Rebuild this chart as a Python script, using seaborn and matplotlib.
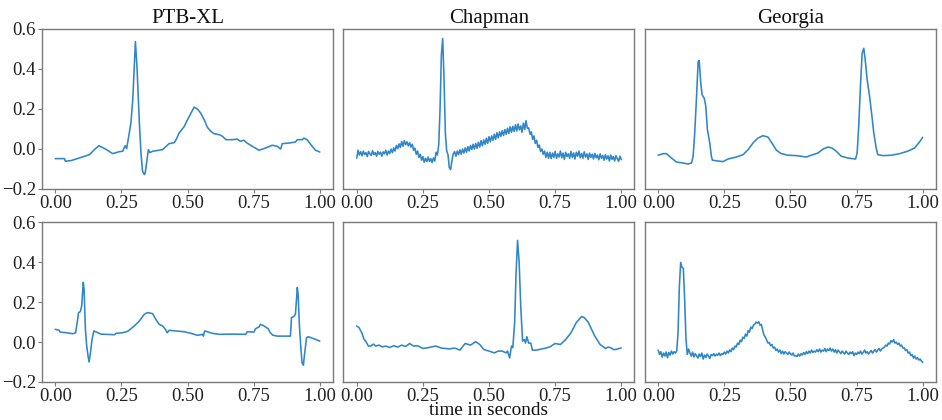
import numpy as np
import pandas as pd
import matplotlib
matplotlib.use("Agg")
import matplotlib.pyplot as plt
import seaborn as sns

titles = ["PTB-XL", "Chapman", "Georgia"]
xticks = [0.0, 0.25, 0.5, 0.75, 1.0]
yticks = [-0.2, 0.0, 0.2, 0.4, 0.6]

# ---- PTB-XL (top): breakpoints (time, value)
ptb_top_t = [0.0, 0.035, 0.038, 0.06, 0.13, 0.148, 0.165, 0.19, 0.217, 0.23, 0.243, 0.255, 0.264, 0.27,
             0.286, 0.293, 0.303, 0.309, 0.318, 0.324, 0.33, 0.337, 0.34, 0.347, 0.352, 0.358, 0.368,
             0.406, 0.43, 0.45, 0.458, 0.468, 0.487, 0.5, 0.513, 0.525, 0.538, 0.55, 0.563, 0.575,
             0.588, 0.6, 0.62, 0.632, 0.645, 0.67, 0.688, 0.7, 0.713, 0.725, 0.745, 0.77, 0.795,
             0.82, 0.839, 0.852, 0.858, 0.883, 0.908, 0.915, 0.934, 0.94, 0.952, 0.971, 0.984, 1.0]
ptb_top_v = [-0.05, -0.05, -0.063, -0.06, -0.03, -0.005, 0.015, -0.002, -0.025, -0.02, -0.015, -0.013, 0.015, 0.0,
             0.128, 0.245, 0.537, 0.41, 0.128, -0.02, -0.113, -0.13, -0.122, -0.055, -0.005, -0.02, -0.013,
             -0.005, 0.025, 0.03, 0.048, 0.078, 0.11, 0.145, 0.178, 0.208, 0.198, 0.178, 0.145, 0.107,
             0.087, 0.075, 0.07, 0.062, 0.045, 0.045, 0.048, 0.037, 0.042, 0.028, 0.012, -0.008, 0.003,
             0.017, 0.012, -0.002, 0.025, 0.028, 0.033, 0.045, 0.045, 0.053, 0.045, 0.012, -0.008, -0.017]

# ---- Chapman (top): uniformly sampled values, 0..1 s
chap_top_v = [
    -0.048, -0.008, -0.032, -0.015, -0.036, -0.012, -0.030, -0.020, -0.040, -0.014,
    -0.026, -0.034, -0.010, -0.030, -0.020, -0.038, -0.014, -0.028, -0.018, -0.038,
    -0.016, -0.026, -0.008, -0.032,
    -0.012, -0.025, -0.002, -0.020, 0.004, -0.012, 0.016, 0.000, 0.024, 0.006,
    0.036, 0.012, 0.040, 0.020, 0.034, 0.014, 0.030,
    0.008, 0.022, -0.008, 0.002, -0.028, -0.012, -0.044, -0.028, -0.058, -0.040,
    -0.068, -0.048, -0.065, -0.042, -0.064, -0.050, -0.070, -0.046,
    -0.062, -0.018, -0.032, 0.020, 0.200, 0.470, 0.552, 0.350, 0.080, -0.010,
    -0.030, -0.095, -0.105, -0.060, -0.025,
    -0.015, -0.038, -0.012, -0.030, -0.006, -0.028, -0.002, -0.022, 0.004, -0.018,
    0.010, -0.012, 0.016, -0.004, 0.022, -0.002, 0.026, 0.002, 0.032, 0.008,
    0.040, 0.014, 0.044, 0.022, 0.052, 0.026, 0.060, 0.034, 0.064, 0.042,
    0.072, 0.046, 0.080, 0.054, 0.084, 0.062, 0.090, 0.066, 0.096, 0.072,
    0.102, 0.076, 0.110, 0.082, 0.112, 0.086, 0.120, 0.088, 0.124, 0.094,
    0.114, 0.082, 0.128, 0.096, 0.140, 0.102, 0.104, 0.072, 0.084, 0.046,
    0.064, 0.026, 0.042, 0.006, 0.018, -0.014, -0.002, -0.028, -0.012, -0.044,
    -0.018,
    -0.048, -0.018, -0.050, -0.022, -0.044, -0.014, -0.048, -0.026, -0.042, -0.012,
    -0.046, -0.022, -0.054, -0.018, -0.040, -0.026, -0.048, -0.014, -0.044, -0.022,
    -0.052, -0.018, -0.038, -0.012, -0.046, -0.024, -0.048, -0.016, -0.042, -0.026,
    -0.054, -0.022, -0.044, -0.028, -0.052, -0.024, -0.046, -0.032, -0.056, -0.026,
    -0.048, -0.034, -0.058, -0.030, -0.052, -0.036, -0.062, -0.032, -0.054, -0.040,
    -0.062, -0.036, -0.050, -0.064, -0.038, -0.055]

# ---- Georgia (top): breakpoints
geo_top_t = [0.0, 0.019, 0.031, 0.05, 0.069, 0.094, 0.113, 0.126, 0.132, 0.138, 0.145, 0.151, 0.155,
             0.161, 0.166, 0.174, 0.18, 0.186, 0.195, 0.201, 0.205, 0.226, 0.245, 0.264, 0.296, 0.321,
             0.34, 0.358, 0.377, 0.396, 0.415, 0.43, 0.447, 0.465, 0.491, 0.522, 0.56, 0.585, 0.604,
             0.623, 0.642, 0.657, 0.673, 0.692, 0.717, 0.746, 0.752, 0.758, 0.765, 0.771, 0.777, 0.782,
             0.79, 0.799, 0.808, 0.815, 0.824, 0.83, 0.849, 0.881, 0.913, 0.943, 0.969, 0.987, 1.0]
geo_top_v = [-0.033, -0.025, -0.025, -0.047, -0.067, -0.072, -0.077, -0.072, -0.038, 0.078, 0.262, 0.437, 0.442,
             0.328, 0.27, 0.253, 0.212, 0.095, 0.028, -0.038, -0.058, -0.062, -0.065, -0.052, -0.042, -0.03,
             -0.005, 0.028, 0.053, 0.065, 0.058, 0.028, -0.008, -0.025, -0.033, -0.035, -0.042, -0.03, -0.022,
             -0.002, 0.008, 0.003, -0.013, -0.038, -0.047, -0.052, -0.022, 0.112, 0.328, 0.478, 0.503, 0.453,
             0.345, 0.262, 0.162, 0.078, 0.003, -0.03, -0.035, -0.033, -0.025, -0.013, 0.003, 0.032, 0.057]

# ---- PTB-XL (bottom): breakpoints
ptb_bot_t = [0.0, 0.014, 0.019, 0.041, 0.067, 0.077, 0.083, 0.088, 0.095, 0.1, 0.106, 0.109, 0.114, 0.119,
             0.124, 0.128, 0.133, 0.139, 0.146, 0.161, 0.173, 0.192, 0.224, 0.23, 0.255, 0.274, 0.286,
             0.299, 0.318, 0.337, 0.349, 0.368, 0.38, 0.393, 0.406, 0.418, 0.423, 0.431, 0.456, 0.487,
             0.513, 0.538, 0.557, 0.56, 0.565, 0.594, 0.619, 0.67, 0.72, 0.726, 0.751, 0.757, 0.77, 0.776,
             0.789, 0.805, 0.813, 0.822, 0.839, 0.871, 0.889, 0.893, 0.902, 0.908, 0.915, 0.918, 0.923,
             0.928, 0.933, 0.938, 0.943, 0.95, 0.956, 0.977, 1.0]
ptb_bot_v = [0.064, 0.06, 0.05, 0.047, 0.042, 0.047, 0.098, 0.148, 0.153, 0.182, 0.3, 0.266, 0.064, -0.02,
             -0.07, -0.1, -0.054, 0.013, 0.056, 0.047, 0.04, 0.039, 0.037, 0.044, 0.047, 0.054, 0.067,
             0.081, 0.106, 0.14, 0.148, 0.143, 0.114, 0.089, 0.081, 0.061, 0.047, 0.059, 0.056, 0.052,
             0.044, 0.034, 0.039, 0.03, 0.056, 0.044, 0.039, 0.04, 0.039, 0.052, 0.05, 0.067, 0.076, 0.089,
             0.081, 0.067, 0.047, 0.035, 0.03, 0.03, 0.03, 0.123, 0.128, 0.14, 0.274, 0.241, 0.081,
             -0.02, -0.104, -0.116, -0.054, 0.022, 0.027, 0.017, 0.005]

# ---- Chapman (bottom): breakpoints
chap_bot_t = [0.0, 0.009, 0.019, 0.028, 0.034, 0.044, 0.053, 0.063, 0.072, 0.084, 0.097, 0.11, 0.125,
              0.14, 0.155, 0.17, 0.185, 0.2, 0.215, 0.23, 0.25, 0.27, 0.29, 0.3, 0.32, 0.35, 0.37, 0.39,
              0.41, 0.43, 0.45, 0.465, 0.48, 0.5, 0.52, 0.535, 0.55, 0.565, 0.57, 0.578, 0.585, 0.59,
              0.597, 0.602, 0.608, 0.614, 0.62, 0.627, 0.633, 0.638, 0.643, 0.65, 0.658, 0.664, 0.68,
              0.7, 0.715, 0.73, 0.75, 0.77, 0.79, 0.81, 0.83, 0.85, 0.86, 0.875, 0.9, 0.92, 0.94, 0.95,
              0.96, 0.97, 0.98, 1.0]
chap_bot_v = [0.081, 0.072, 0.047, 0.013, 0.005, -0.02, -0.02, -0.01, -0.02, -0.015, -0.024, -0.02, -0.027,
              -0.018, -0.025, -0.015, -0.022, -0.007, -0.02, -0.018, -0.032, -0.028, -0.022, -0.02, -0.03,
              -0.034, -0.03, -0.04, -0.007, -0.015, 0.002, -0.012, -0.037, -0.045, -0.054, -0.045, -0.045,
              -0.054, -0.045, -0.079, -0.02, -0.028, 0.098, 0.333, 0.51, 0.4, 0.18, 0.005, 0.013, -0.005,
              0.027, -0.005, -0.005, -0.04, -0.04, -0.034, -0.03, -0.024, -0.007, -0.012, 0.013, 0.047,
              0.098, 0.128, 0.123, 0.1, 0.03, -0.012, -0.032, -0.025, -0.028, -0.037, -0.037, -0.029]

# ---- Georgia (bottom): uniformly sampled values, 0..1 s
geo_bot_v = [
    -0.040, -0.062, -0.048, -0.075, -0.055, -0.070, -0.050, -0.078, -0.052, -0.065,
    -0.045, -0.060, -0.048, -0.055, -0.045,
    0.045, 0.280, 0.400, 0.375, 0.370, 0.215, 0.015, -0.062, -0.035,
    -0.055, -0.070, -0.050, -0.075, -0.058, -0.068, -0.080, -0.060, -0.072, -0.055,
    -0.085, -0.065, -0.078, -0.060, -0.070, -0.082, -0.062, -0.068, -0.058, -0.070,
    -0.060, -0.066, -0.055, -0.068, -0.058, -0.062, -0.050,
    -0.060, -0.045, -0.055, -0.040, -0.048, -0.030, -0.038, -0.020, -0.025, -0.005,
    -0.012, 0.010, 0.002, 0.025, 0.018, 0.040, 0.030, 0.058, 0.050, 0.075,
    0.068, 0.085, 0.090, 0.100, 0.095, 0.102, 0.085, 0.088, 0.060, 0.035,
    0.025, 0.010, -0.005, -0.002, -0.018, -0.012, -0.030, -0.025, -0.042, -0.035,
    -0.050, -0.040, -0.058, -0.045, -0.060, -0.048, -0.055, -0.062, -0.050, -0.058,
    -0.065, -0.055, -0.070, -0.068, -0.072, -0.060, -0.070, -0.058, -0.065, -0.052,
    -0.062, -0.048, -0.058, -0.045, -0.055, -0.040, -0.052, -0.045, -0.050, -0.038,
    -0.048, -0.035, -0.050, -0.040, -0.045, -0.032, -0.048, -0.035, -0.042, -0.030,
    -0.045, -0.035, -0.050, -0.038, -0.055, -0.040, -0.048, -0.058, -0.045, -0.052,
    -0.060, -0.045, -0.055, -0.062, -0.050, -0.058, -0.048, -0.068, -0.055, -0.062,
    -0.050, -0.058, -0.045, -0.060, -0.052, -0.040, -0.055, -0.048, -0.060, -0.050,
    -0.042, -0.055, -0.045, -0.038, -0.050, -0.040, -0.032, -0.045, -0.035, -0.030,
    -0.025, -0.015, -0.020, -0.005, -0.010, 0.008, 0.000, 0.012, -0.005, 0.000,
    -0.012, -0.005, -0.020, -0.015, -0.030, -0.028, -0.042, -0.038, -0.055, -0.050,
    -0.068, -0.062, -0.080, -0.070, -0.085, -0.078, -0.090, -0.085, -0.095, -0.102]

sns.set_theme(style="white")
plt.rcParams['font.family'] = ['Liberation Serif', 'DejaVu Serif']
plt.rcParams['mathtext.fontset'] = 'stix'

LINE = '#2f86c8'
SPINE = '#7a7a7a'

series = [
    [(ptb_top_t, ptb_top_v), (np.linspace(0, 1, len(chap_top_v)), chap_top_v), (geo_top_t, geo_top_v)],
    [(ptb_bot_t, ptb_bot_v), (chap_bot_t, chap_bot_v), (np.linspace(0, 1, len(geo_bot_v)), geo_bot_v)],
]

fig, axes = plt.subplots(2, 3, figsize=(9.42, 4.2), dpi=100, sharey=True)
fig.subplots_adjust(left=0.0446, right=0.9936, top=0.931, bottom=0.0905, wspace=0.036, hspace=0.2125)

for r in range(2):
    for c in range(3):
        ax = axes[r][c]
        t, v = series[r][c]
        df = pd.DataFrame({"t": np.asarray(t, dtype=float), "v": np.asarray(v, dtype=float)})
        sns.lineplot(data=df, x="t", y="v", ax=ax, color=LINE, linewidth=1.15, sort=False,
                     estimator=None)
        ax.set_xlim(-0.05, 1.05)
        ax.set_ylim(-0.2, 0.6)
        ax.set_xticks(xticks)
        ax.set_xticklabels([f"{x:.2f}" for x in xticks])
        ax.set_yticks(yticks)
        ax.set_yticklabels([f"{y:.1f}".replace('-', '\u2212') for y in yticks])
        ax.set_xlabel("")
        ax.set_ylabel("")
        for s in ax.spines.values():
            s.set_color(SPINE)
            s.set_linewidth(1.0)
        ax.tick_params(axis='both', labelsize=13.5, colors='#222222', length=3, width=0.8,
                       direction='out', bottom=True, left=(c == 0), pad=1.5)
        ax.tick_params(axis='both', color=SPINE)
        if c != 0:
            ax.tick_params(axis='y', left=False, labelleft=False)
        if r == 0:
            ax.set_title(titles[c], fontsize=15, color='#111111', pad=4)

mid = axes[1][1].get_position()
fig.text((mid.x0 + mid.x1) / 2, 1.2 / 420, "time in seconds", fontsize=13.8,
         color='#111111', ha='center', va='bottom')

fig.savefig("out.png", dpi=100)
